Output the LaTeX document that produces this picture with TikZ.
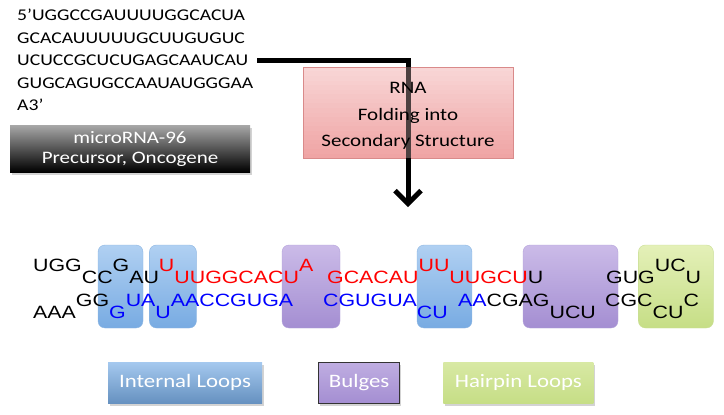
\documentclass[tikz,border=0pt]{standalone}
\usepackage{fontspec}
\setmainfont{Carlito}[FakeStretch=1.2]
\newfontfamily\basefont{Liberation Sans}[FakeStretch=1.2]
\usetikzlibrary{positioning, arrows.meta, shadows, calc}

\definecolor{rnared}{HTML}{FF0000}
\definecolor{rnablue}{HTML}{0000FF}
\definecolor{darktop}{HTML}{A8A8A8}
\definecolor{foldtop}{HTML}{F8D6D6}
\definecolor{foldbot}{HTML}{EFA2A2}
\definecolor{foldedge}{HTML}{D98A8A}
\definecolor{foldline}{HTML}{4D4040}
\definecolor{intop}{HTML}{B0D0F2}
\definecolor{inbot}{HTML}{78ABE2}
\definecolor{inedge}{HTML}{8DB6E2}
\definecolor{butop}{HTML}{CBBBE8}
\definecolor{bubot}{HTML}{A48ED2}
\definecolor{buedge}{HTML}{B3A2DA}
\definecolor{hptop}{HTML}{E4F0B8}
\definecolor{hpbot}{HTML}{C6DE86}
\definecolor{hpedge}{HTML}{C9DE95}

\newcommand{\upb}[1]{\raisebox{12pt}{#1}}
\newcommand{\dnb}[1]{\raisebox{-12pt}{#1}}

\begin{document}
\begin{tikzpicture}[
    x=1pt, y=-1pt,
    softshadow/.style={drop shadow={opacity=0.35, shadow xshift=1.5pt, shadow yshift=-2.5pt}},
    seqtext/.style={align=left, inner sep=4pt, font=\fontsize{16.4}{22.5}\selectfont},
    darkbox/.style={rectangle, top color=darktop, bottom color=black, text=white, align=center, minimum width=240pt, minimum height=47pt, softshadow, font=\fontsize{17.5}{20}\selectfont},
    foldbox/.style={rectangle, minimum width=210pt, minimum height=91pt},
    foldtext/.style={align=center, font=\fontsize{17.5}{26.5}\selectfont},
    flow/.style={-{Straight Barb[length=13pt, width=26pt]}, line width=5pt},
    strand/.style={anchor=base west, inner sep=0pt, font=\basefont\fontsize{17.8}{20}\selectfont},
    loopbox/.style={rectangle, rounded corners=7pt, minimum height=83pt, inner sep=0pt},
    internal/.style={top color=intop, bottom color=inbot, draw=inedge},
    bulge/.style={top color=butop, bottom color=bubot, draw=buedge},
    hairpin/.style={top color=hptop, bottom color=hpbot, draw=hpedge},
    legend/.style={rectangle, minimum height=41pt, text=white, softshadow, font=\fontsize{19}{22}\selectfont}
]
    \useasboundingbox (0,0) rectangle (724,415);

    % precursor sequence and label
    \node [seqtext, anchor=north west] (seq) at (13,5) {5’UGGCCGAUUUUGGCACUA\\GCACAUUUUUGCUUGUGUC\\UCUCCGCUCUGAGCAAUCAU\\GUGCAGUGCCAAUAUGGGAA\\A3’};
    \node [darkbox] (precursor) at (130,148.5) {microRNA-96\\Precursor, Oncogene};

    % folding step: box in stripes
    \node [foldbox] (fold) at (408,112.5) {};
    \foreach \i in {0,...,19} {
        \pgfmathsetmacro{\mix}{100-\i*5}
        \fill [foldtop!\mix!foldbot] ($(fold.north west)!\i/20!(fold.south west)$) rectangle ($(fold.north east)!\i/20+0.06!(fold.south east)$);
    }
    \draw [foldedge] (fold.north west) rectangle (fold.south east);
    \coordinate [below=49pt of fold] (foldend);
    \draw [flow] (seq.east) -| (foldend);

    % loop boxes behind the bases
    \node [loopbox, internal, minimum width=45pt] (loopA) at (120.5,286.5) {};
    \node [loopbox, internal, minimum width=47pt, right=6pt of loopA] (loopB) {};
    \node [loopbox, bulge, minimum width=58pt] (bulgeA) at (311,286.5) {};
    \node [loopbox, internal, minimum width=55pt] (loopC) at (444.5,286.5) {};
    \node [loopbox, bulge, minimum width=95pt] (bulgeB) at (570.5,286.5) {};
    \node [loopbox, hairpin, minimum width=75pt, right=20pt of bulgeB] (hpin) {};

    % upper strand
    \node [strand] (top1) at (33,283) {\upb{UGG}CC\upb{G}AU\textcolor{rnared}{\upb{U}UUGGCACU\upb{A}}};
    \node [strand] (top2) at (327,283) {\textcolor{rnared}{GCACAU\upb{UU}UUGCU}U};
    \node [strand] (top3) at (606,283) {GUG\upb{UC}U};

    % lower strand
    \node [strand] (bot1) at (33,306) {\dnb{AAA}GG\textcolor{rnablue}{\dnb{G}UA\dnb{U}AACCGUGA}};
    \node [strand] (bot2) at (323,306) {\textcolor{rnablue}{CGUGUA\dnb{CU}}};
    \node [strand] (bot3) at (458,306) {\textcolor{rnablue}{AA}CGAG\dnb{UCU}};
    \node [strand] (bot4) at (605,306) {CGC\dnb{CU}C};

    % legend
    \node [legend, internal, draw=none, top color=intop!80!inbot, bottom color=inbot!85!black, minimum width=154pt] (intlegend) at (185,382.5) {Internal Loops};
    \node [legend, bulge, draw=black!80, line width=1pt, top color=butop!70!bubot, bottom color=bubot, minimum width=81pt, right=56pt of intlegend] (bulgelegend) {Bulges};
    \node [legend, hairpin, draw=none, top color=hptop!60!hpbot, bottom color=hpbot, minimum width=150pt, right=43pt of bulgelegend] (hairlegend) {Hairpin Loops};

    % arrow showing through the folding box, then its text
    \draw [line width=5pt, draw=foldline] (fold.north) -- (fold.south);
    \node [foldtext] (foldlabel) at (408,116) {RNA\\Folding into\\Secondary Structure};

\end{tikzpicture}
\end{document}
